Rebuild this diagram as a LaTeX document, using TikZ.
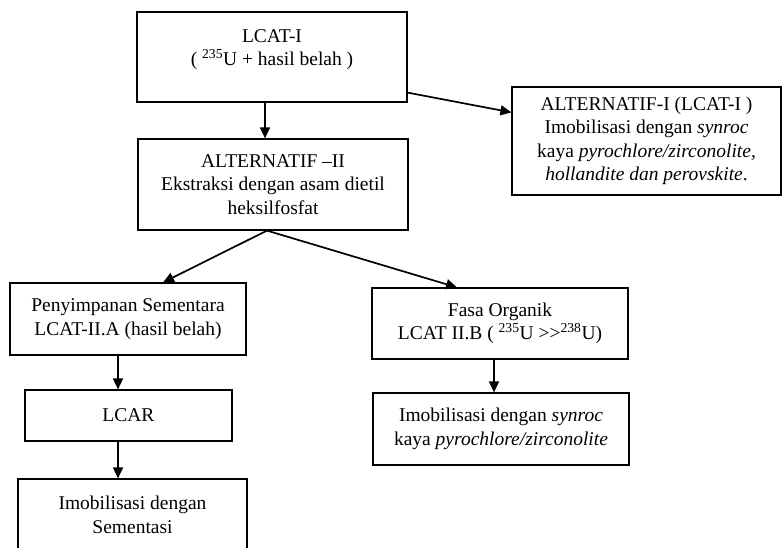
\documentclass[tikz,border=0pt]{standalone}
\usepackage{fontspec}
\setmainfont{Liberation Serif}
\usetikzlibrary{arrows.meta,positioning}

\begin{document}
\begin{tikzpicture}[
  x=1pt, y=-1pt,
  every node/.style={draw, line width=1.2pt, align=center, inner sep=2pt,
    font=\fontsize{19.5}{23.5}\selectfont},
  link/.style={draw, ->, >={Triangle[length=11pt,width=10pt]}, line width=1.7pt}
]
\useasboundingbox (0,0) rectangle (782,547);
\clip (0,0) rectangle (782,547);

\node[minimum width=270pt, minimum height=90pt] (lcat) at (272,57)
  {LCAT-I\\( \textsuperscript{235}U + hasil belah )\\[-5pt]\mbox{}};
\node[minimum width=269pt, minimum height=108pt] (alt1) at (646.5,141)
  {ALTERNATIF-I (LCAT-I )\\Imobilisasi dengan \textit{synroc}\\kaya \textit{pyrochlore/zirconolite,}\\\textit{hollandite dan perovskite}.};
\node[minimum width=270pt, minimum height=91pt] (alt2) at (273,184.5)
  {ALTERNATIF –II\\Ekstraksi dengan asam dietil\\heksilfosfat};
\node[minimum width=236pt, minimum height=72pt] (store) at (128,319)
  {Penyimpanan Sementara\\LCAT-II.A (hasil belah)};
\node[minimum width=256pt, minimum height=71pt] (fasa) at (500,323.5)
  {Fasa Organik\\LCAT II.B ( \textsuperscript{235}U >{}>\textsuperscript{238}U)};
\node[minimum width=207pt, minimum height=51pt] (lcar) at (128.5,415.5)
  {LCAR};
\node[minimum width=256pt, minimum height=72pt] (synroc) at (501,429)
  {Imobilisasi dengan \textit{synroc}\\kaya \textit{pyrochlore/zirconolite}};
\node[minimum width=229pt, minimum height=72pt] (cement) at (132.5,515)
  {Imobilisasi dengan\\Sementasi};

\coordinate (split) at ([xshift=-6pt]alt2.south);

% Draw the flow between the boxes
\draw[link] ([xshift=-7pt]lcat.south) -- ([xshift=-8pt]alt2.north);
\draw[link] ([yshift=10pt]lcat.south east) -- ([yshift=-26pt]alt1.north west);
\draw[link] (split) -- ([xshift=35pt]store.north);
\draw[link] (split) -- ([xshift=-43pt]fasa.north);
\draw[link] ([xshift=-10pt]store.south) -- ([xshift=-10.5pt]lcar.north);
\draw[link] ([xshift=-6pt]fasa.south) -- ([xshift=-7pt]synroc.north);
\draw[link] ([xshift=-10.5pt]lcar.south) -- ([xshift=-14.5pt]cement.north);

\end{tikzpicture}
\end{document}
